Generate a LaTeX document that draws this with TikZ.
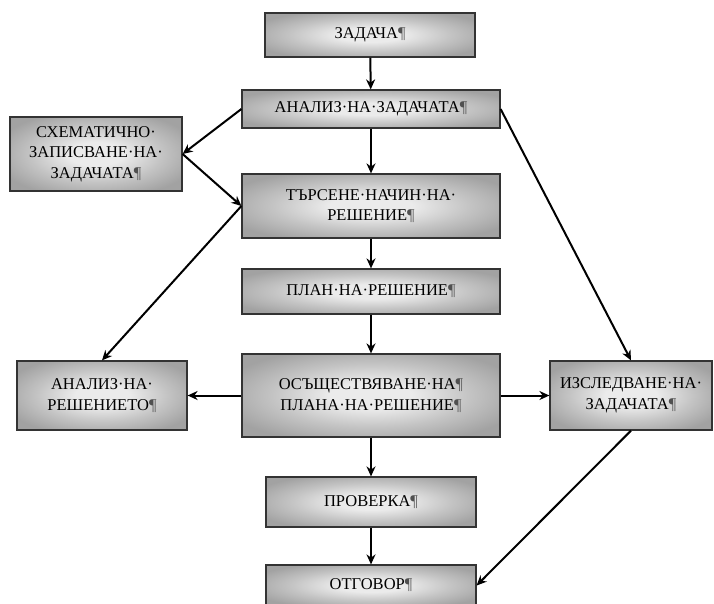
\documentclass[tikz,border=0pt]{standalone}
\usepackage{fontspec}
\setmainfont{Liberation Serif}
\usetikzlibrary{arrows.meta}

\definecolor{shadelight}{HTML}{EBEBEB}
\definecolor{shademid}{HTML}{C4C4C4}
\definecolor{shadedark}{HTML}{A2A2A2}
\definecolor{boxline}{HTML}{333333}
\definecolor{markgray}{HTML}{505050}

% light centre fading to grey towards the box edges
\pgfdeclareradialshading{boxshade}{\pgfpoint{0bp}{0bp}}{%
  color(0bp)=(shadelight); color(8bp)=(shadelight);
  color(19bp)=(shademid); color(30bp)=(shadedark); color(50bp)=(shadedark)}

\newcommand\parmark{{\color{markgray}¶}}

\begin{document}
\begin{tikzpicture}[x=1pt,y=-1pt,
  stepbox/.style={draw=boxline, line width=1.2pt, shading=boxshade,
    inner sep=0pt, align=center, font=\fontsize{16.5}{20.5}\selectfont},
  link/.style={line width=2pt, -{Stealth[length=10pt,width=9pt]}}]

\useasboundingbox (0,0) rectangle (714,604);

% boxes
\node[stepbox, minimum width=210pt, minimum height=44pt] (zad) at (370,35)
  {ЗАДАЧА\parmark};
\node[stepbox, minimum width=258pt, minimum height=38pt] (an) at (371,109)
  {АНАЛИЗ·НА·ЗАДАЧАТА\parmark};
\node[stepbox, minimum width=172pt, minimum height=74pt] (sx) at (96,154)
  {СХЕМАТИЧНО·\\ЗАПИСВАНЕ·НА·\\ЗАДАЧАТА\parmark};
\node[stepbox, minimum width=258pt, minimum height=64pt] (ts) at (371,206)
  {ТЪРСЕНЕ·НАЧИН·НА·\\РЕШЕНИЕ\parmark};
\node[stepbox, minimum width=258pt, minimum height=45pt] (pl) at (371,291.5)
  {ПЛАН·НА·РЕШЕНИЕ\parmark};
\node[stepbox, minimum width=258pt, minimum height=83pt] (os) at (371,395.5)
  {ОСЪЩЕСТВЯВАНЕ·НА\parmark\\ПЛАНА·НА·РЕШЕНИЕ\parmark};
\node[stepbox, minimum width=170pt, minimum height=69pt] (ar) at (102,395.5)
  {АНАЛИЗ·НА·\\РЕШЕНИЕТО\parmark};
\node[stepbox, minimum width=162pt, minimum height=69pt] (iz) at (631,395.5)
  {ИЗСЛЕДВАНЕ·НА·\\ЗАДАЧАТА\parmark};
\node[stepbox, minimum width=210pt, minimum height=50pt] (pr) at (371,502)
  {ПРОВЕРКА\parmark};
\node[stepbox, minimum width=210pt, minimum height=41pt] (ot) at (371,585.5)
  {ОТГОВОР\parmark};

% connectors
\draw[link] (zad) -- (an);
\draw[link] (an.west) -- (sx.east);
\draw[link] (sx.east) -- (ts.west);
\draw[link] (an) -- (ts);
\draw[link] (an.east) -- (iz.north);
\draw[link] (ts.west) -- (ar.north);
\draw[link] (ts) -- (pl);
\draw[link] (pl) -- (os);
\draw[link] (os) -- (ar);
\draw[link] (os) -- (iz);
\draw[link] (os) -- (pr);
\draw[link] (pr) -- (ot);
\draw[link] (iz.south) -- (ot.east);
\end{tikzpicture}
\end{document}
